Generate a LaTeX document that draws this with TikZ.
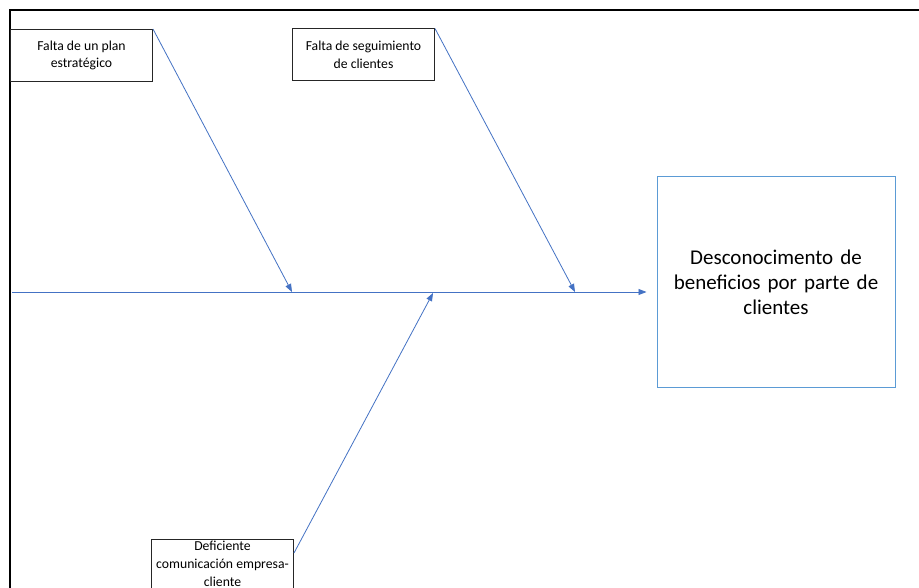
\documentclass[tikz,border=0pt]{standalone}
\usepackage{fontspec}
\setmainfont{Carlito}
\usetikzlibrary{arrows.meta,positioning}
\definecolor{spine}{HTML}{4472C4}
\definecolor{effectblue}{HTML}{5B9BD5}
\tikzset{cause/.style={draw=black!85,line width=1pt,align=center,
  minimum width=142pt,minimum height=52pt,
  font=\fontsize{13.7}{17.8}\selectfont,inner xsep=1pt,inner ysep=2pt},
  effect/.style={draw=effectblue,line width=1pt,align=center,
  text width=225pt,minimum width=238pt,minimum height=210pt,
  font=\fontsize{21}{25}\selectfont},
  bone/.style={-{Triangle[length=8pt,width=6pt]},line width=0.8pt,draw=spine}}
\begin{document}
\begin{tikzpicture}[x=1pt,y=-1pt]
\useasboundingbox[fill=white] (0,0) rectangle (919,588);
\draw[line width=2pt] (10,588) -- (10,10) -- (919,10);
\node[cause] (plan) at (81.5,55.5) {Falta de un plan\\estratégico};
\node[cause] (seguim) at (363.5,55) {Falta de seguimiento\\de clientes};
\node[cause,anchor=north,minimum height=0pt] (comun) at (222.5,539) {Deficiente\\comunicación empresa-\\cliente};
\node[effect] (efecto) at (776,282) {Desconocimento de\\beneficios por parte de\\clientes};
\coordinate (cola) at (12,292);
\coordinate (j1) at (292,292);
\coordinate (j2) at (575,292);
\coordinate (j3) at (433,293);
\draw[bone,shorten >=10pt] (cola) -- (cola -| efecto.west);
\draw[bone] (plan.north east) -- (j1);
\draw[bone] (seguim.north east) -- (j2);
\draw[bone] ([yshift=-14pt]comun.north east) -- (j3);
\end{tikzpicture}
\end{document}
